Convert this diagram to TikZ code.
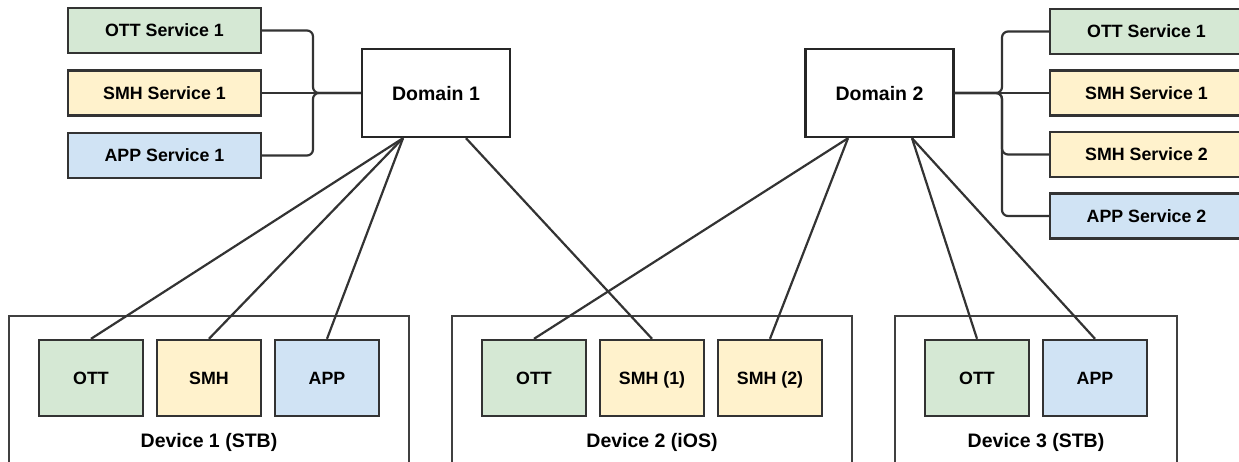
\documentclass[tikz,border=0pt]{standalone}
\usepackage{fontspec}
\setmainfont{Liberation Sans}
\usepackage{xcolor}
\usepackage{tikz}
\usetikzlibrary{positioning}

\definecolor{ottgreen}{HTML}{D5E8D4}
\definecolor{smhyellow}{HTML}{FFF2CC}
\definecolor{appblue}{HTML}{D0E3F4}
\definecolor{edgegray}{HTML}{333333}
\definecolor{framegray}{HTML}{404040}

\newcommand{\svcfont}{\fontsize{17.8}{20}\selectfont\bfseries}
\newcommand{\bigfont}{\fontsize{19.5}{22}\selectfont\bfseries}

\tikzset{
  svcbox/.style={draw=edgegray, line width=2.4pt, inner sep=0pt,
    minimum width=193pt, minimum height=45pt, font=\svcfont,
    text height=12.7pt, text depth=0pt},
  itembox/.style={svcbox, minimum width=104pt, minimum height=76pt},
  ott/.style={fill=ottgreen},
  smh/.style={fill=smhyellow},
  app/.style={fill=appblue},
  domainbox/.style={draw=black!85, line width=2.4pt, fill=white, inner sep=0pt,
    minimum width=148pt, minimum height=88pt, font=\bigfont,
    text height=14pt, text depth=0pt},
  devbox/.style={draw=framegray, line width=2.2pt, minimum height=160pt},
  devlabel/.style={font=\bigfont, anchor=base, inner sep=0pt},
  link/.style={draw=edgegray, line width=2.2pt},
}

\begin{document}
\begin{tikzpicture}[x=1pt, y=-1pt]
  \useasboundingbox (0,0) rectangle (1239,461);
  \clip (0,0) rectangle (1239,461);

  % Domains
  \node[domainbox] (dom1) at (436,93) {Domain 1};
  \node[domainbox] (dom2) at (879.5,93) {Domain 2};

  % Services of domain 1
  \node[svcbox, ott] (lott) at (164.5,30.5) {OTT Service 1};
  \node[svcbox, smh, below=15.1pt of lott] (lsmh) {SMH Service 1};
  \node[svcbox, app, below=15.1pt of lsmh] (lapp) {APP Service 1};

  % Services of domain 2 (cut at the right edge)
  \node[svcbox, ott] (rott) at (1146.5,31.5) {OTT Service 1};
  \node[svcbox, smh, below=14.1pt of rott] (rsmh1) {SMH Service 1};
  \node[svcbox, smh, below=14.1pt of rsmh1] (rsmh2) {SMH Service 2};
  \node[svcbox, app, below=14.1pt of rsmh2] (rapp) {APP Service 2};

  % Service links
  \coordinate (j1) at (313,93);
  \coordinate (j2) at (1002,93);
  \draw[link, rounded corners=6pt] (lott.east) -| (j1) -- (dom1.west);
  \draw[link] (lsmh.east) -- (dom1.west);
  \draw[link, rounded corners=6pt] (lapp.east) -| (j1) -- (dom1.west);
  \foreach \s in {rott,rsmh2,rapp}
    \draw[link, rounded corners=6pt] (dom2.east) -- (j2) |- (\s.west);
  \draw[link] (dom2.east) -- (rsmh1.west);

  % Devices
  \node[devbox, minimum width=400pt] (dev1) at (209,396) {};
  \node[devbox, minimum width=400pt] (dev2) at (652,396) {};
  \node[devbox, minimum width=282pt] (dev3) at (1036,396) {};
  \node[devlabel] (dev1name) at (209,447) {Device 1 (STB)};
  \node[devlabel] (dev2name) at (652,447) {Device 2 (iOS)};
  \node[devlabel] (dev3name) at (1036,447) {Device 3 (STB)};

  % Device 1 items
  \node[itembox, smh] (d1smh) at (209,378) {SMH};
  \node[itembox, ott, left=11.6pt of d1smh] (d1ott) {OTT};
  \node[itembox, app, right=11.6pt of d1smh] (d1app) {APP};

  % Device 2 items
  \node[itembox, smh] (d2smh1) at (652,378) {SMH (1)};
  \node[itembox, ott, left=11.6pt of d2smh1] (d2ott) {OTT};
  \node[itembox, smh, right=11.6pt of d2smh1] (d2smh2) {SMH (2)};

  % Device 3 items
  \node[itembox, ott] (d3ott) at (977,378) {OTT};
  \node[itembox, app, right=11.6pt of d3ott] (d3app) {APP};

  % Domain to device links
  \foreach \d in {d1ott,d1smh,d1app}
    \draw[link] ([xshift=-33pt]dom1.south) -- (\d.north);
  \draw[link] ([xshift=30pt]dom1.south) -- (d2smh1.north);
  \foreach \d in {d2ott,d2smh2}
    \draw[link] ([xshift=-31.5pt]dom2.south) -- (\d.north);
  \foreach \d in {d3ott,d3app}
    \draw[link] ([xshift=32.5pt]dom2.south) -- (\d.north);
\end{tikzpicture}
\end{document}
